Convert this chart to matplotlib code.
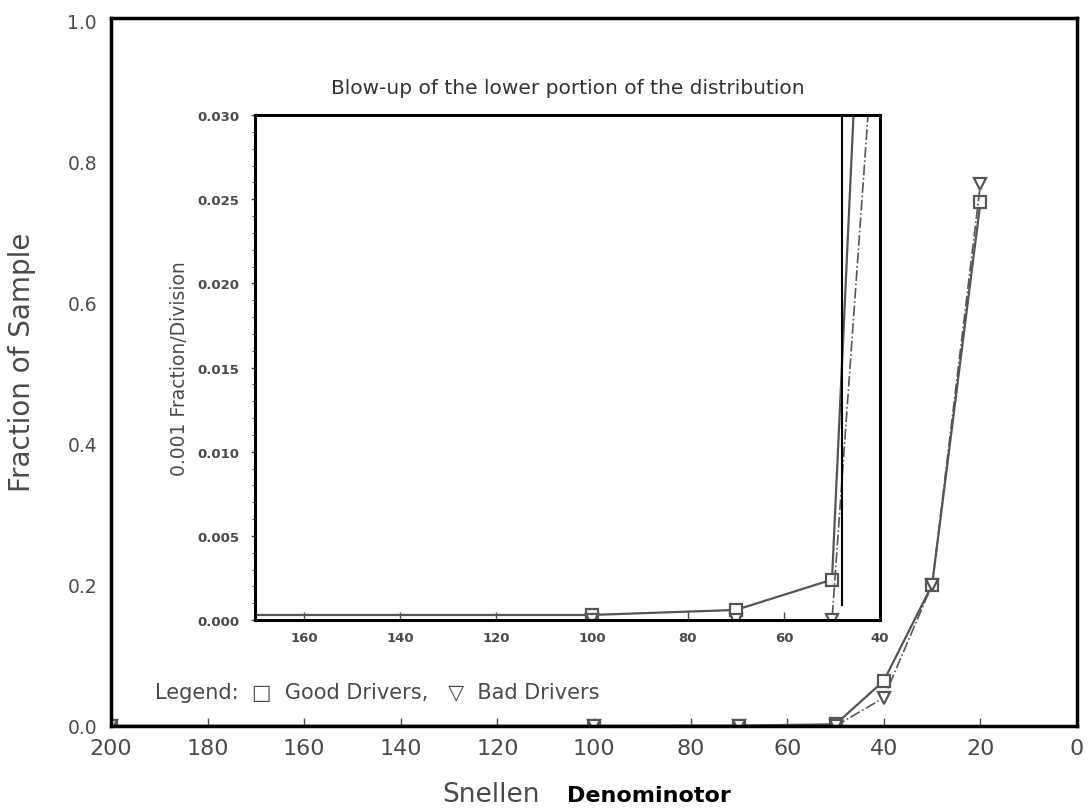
import numpy as np
import matplotlib.pyplot as plt
from matplotlib.ticker import MultipleLocator

# data (Snellen denominator vs fraction of sample)
snellen = [200, 100, 70, 50, 40, 30, 20]
good_drivers = [0.0003, 0.0003, 0.0006, 0.0024, 0.064, 0.20, 0.742]
bad_drivers = [0.0, 0.0, 0.0, 0.0, 0.040, 0.20, 0.768]

main_xticks = [200, 180, 160, 140, 120, 100, 80, 60, 40, 20, 0]
main_yticks = [0.0, 0.2, 0.4, 0.6, 0.8, 1.0]
inset_xticks = [160, 140, 120, 100, 80, 60, 40]
inset_yticks = [0.000, 0.005, 0.010, 0.015, 0.020, 0.025, 0.030]

grey = '#4a4a4a'
line_c = '#555555'

fig = plt.figure(figsize=(10.91, 8.12), dpi=100)
ax = fig.add_axes([0.1017, 0.1047, 0.8855, 0.8719])

ax.plot(snellen, good_drivers, '-', color=line_c, lw=1.6, marker='s', ms=8,
        mfc='white', mec=line_c, mew=1.6)
ax.plot(snellen, bad_drivers, '-.', color=line_c, lw=1.2, marker='v', ms=9,
        mfc='white', mec=line_c, mew=1.6)

ax.set_xlim(200, 0)
ax.set_ylim(0, 1.003)
ax.set_xticks(main_xticks)
ax.set_xticklabels([str(t) for t in main_xticks], fontsize=16, color=grey)
ax.set_yticks(main_yticks)
ax.set_yticklabels([f'{t:.1f}' for t in main_yticks], fontsize=13.5, color=grey)
ax.tick_params(axis='x', direction='in', length=6, width=1, color=grey, pad=9)
ax.tick_params(axis='y', length=0, pad=10)
for s in ax.spines.values():
    s.set_linewidth(2.5)
    s.set_color('black')

ax.set_ylabel('Fraction of Sample', fontsize=20, color=grey)
ax.yaxis.set_label_coords(-0.078, 0.515)
fig.text(0.405, 0.012, 'Snellen', fontsize=19, color=grey, ha='left',
         va='baseline')
fig.text(0.52, 0.012, 'Denominotor', fontsize=16, fontweight='bold',
         family='DejaVu Sans', ha='left', va='baseline')

# legend line drawn as text, like the original
ax.text(0.046, 0.048, 'Legend:  \u25a1  Good Drivers,   \u25bd  Bad Drivers',
        transform=ax.transAxes, fontsize=15, color=grey, va='center')

# inset: blow-up of the lower part
ins = fig.add_axes([0.2337, 0.2352, 0.5729, 0.6219])
ins.plot(snellen, good_drivers, '-', color=line_c, lw=1.6, marker='s', ms=8,
         mfc='white', mec=line_c, mew=1.6, clip_on=True)
ins.plot(snellen, bad_drivers, '-.', color=line_c, lw=1.2, marker='v', ms=9,
         mfc='white', mec=line_c, mew=1.6, clip_on=True)
# stray vertical rule seen in the scan
ins.axvline(48, ymin=0.03, ymax=1.0, color='black', lw=1.5)

ins.set_xlim(170.2, 40.8)
ins.set_ylim(0, 0.030)
ins.set_xticks(inset_xticks)
ins.set_xticklabels([str(t) for t in inset_xticks], fontsize=9.5,
                    fontweight='bold', color=grey)
ins.set_yticks(inset_yticks)
ins.set_yticklabels([f'{t:.3f}' for t in inset_yticks], fontsize=9.5,
                    fontweight='bold', color=grey)
ins.yaxis.set_minor_locator(MultipleLocator(0.001))
ins.tick_params(axis='x', direction='in', length=6, width=1, color=grey, pad=8)
ins.tick_params(axis='y', which='major', direction='out', length=3, width=1,
                color=grey, pad=8)
ins.tick_params(axis='y', which='minor', direction='out', length=2, width=0.8,
                color=grey)
for s in ins.spines.values():
    s.set_linewidth(2.2)
    s.set_color('black')
ins.set_ylabel('0.001 Fraction/Division', fontsize=13.5, color=grey, labelpad=6)
ins.set_title('Blow-up of the lower portion of the distribution', fontsize=14.5,
              color='#333333', pad=16)

fig.savefig('out.png', dpi=100)
